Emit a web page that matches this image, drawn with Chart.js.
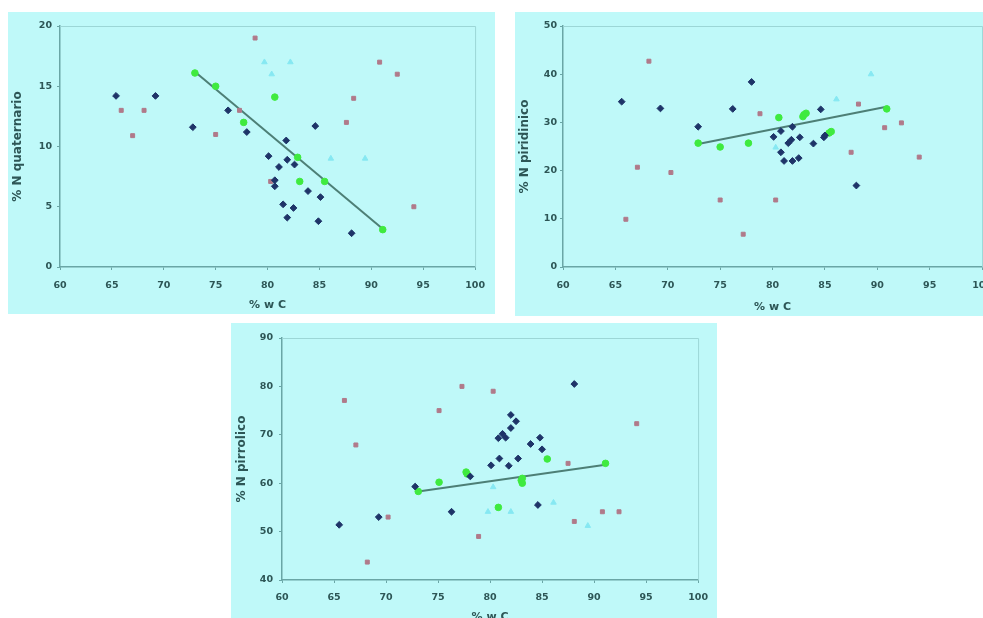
<!DOCTYPE html>
<html>
<head>
<meta charset="utf-8">
<title>% N vs % w C</title>
<script src="https://cdn.jsdelivr.net/npm/chart.js@4/dist/chart.umd.min.js"></script>
<style>
  html, body { margin: 0; padding: 0; background: #ffffff; overflow: hidden; width: 983px; height: 618px; }
  .panel { position: absolute; background: #bff9f9; overflow: hidden; }
  .panel canvas { display: block; }
</style>
</head>
<body>
<div class="panel" style="left:8px; top:12px; width:487px; height:302px;"><canvas id="quatChart" width="487" height="302"></canvas></div>
<div class="panel" style="left:515px; top:12px; width:487px; height:304px;"><canvas id="piriChart" width="487" height="304"></canvas></div>
<div class="panel" style="left:231px; top:323px; width:486px; height:302px;"><canvas id="pirrChart" width="486" height="302"></canvas></div>

<script>
// shared x axis (% w C)
const xTicks = { min: 60, max: 100, step: 5 };

// % N quaternario
const quatNavy = [[65.4,14.2],[69.2,14.2],[72.8,11.6],[76.2,13.0],[78.0,11.2],[80.1,9.2],[81.8,10.5],[81.9,8.9],[81.1,8.3],[82.6,8.5],
  [80.7,7.2],[80.7,6.7],[83.9,6.3],[85.1,5.8],[81.5,5.2],[82.5,4.9],[81.9,4.1],[84.9,3.8],[84.6,11.7],[88.1,2.8]];
const quatPink = [[65.9,13.0],[68.1,13.0],[67.0,10.9],[75.0,11.0],[77.3,13.0],[78.8,19.0],[80.3,7.1],[87.6,12.0],[88.3,14.0],
  [90.8,17.0],[92.5,16.0],[94.1,5.0]];
const quatCyan = [[79.7,17.0],[80.4,16.0],[82.2,17.0],[86.1,9.0],[89.4,9.0]];
const quatGreen = [[73.0,16.1],[75.0,15.0],[77.7,12.0],[80.7,14.1],[82.9,9.1],[83.1,7.1],[85.5,7.1],[91.1,3.1]];
const quatTrend = [[73.0,16.2],[91.2,3.1]];
const quatTicks = { min: 0, max: 20, step: 5 };

// % N piridinico
const piriNavy = [[65.6,34.3],[69.3,32.9],[72.9,29.1],[76.2,32.8],[78.0,38.4],[80.1,27.0],[80.8,28.2],[81.9,29.1],[80.8,23.8],[81.1,22.0],
  [81.9,22.0],[82.5,22.6],[81.5,25.7],[81.8,26.4],[82.6,26.9],[83.9,25.6],[84.6,32.7],[84.9,26.9],[85.0,27.3],[88.0,16.9]];
const piriPink = [[68.2,42.7],[67.1,20.7],[70.3,19.6],[66.0,9.9],[75.0,13.9],[77.2,6.8],[78.8,31.8],[80.3,13.9],[87.5,23.8],
  [88.2,33.8],[90.7,28.9],[92.3,29.9],[94.0,22.8]];
const piriCyan = [[86.1,34.8],[89.4,40.0],[80.3,24.8]];
const piriGreen = [[72.9,25.7],[75.0,24.9],[77.7,25.7],[80.6,31.0],[82.9,31.2],[83.0,31.6],[83.2,31.9],[85.4,27.8],[85.6,28.1],[90.9,32.8]];
const piriTrend = [[72.9,25.5],[91.0,33.3]];
const piriTicks = { min: 0, max: 50, step: 10 };

// % N pirrolico
const pirrNavy = [[65.5,51.4],[69.3,53.0],[72.8,59.3],[76.3,54.1],[78.1,61.4],[80.1,63.7],[80.9,65.1],[80.8,69.3],[81.2,70.2],[81.5,69.4],
  [82.0,74.1],[82.5,72.8],[82.0,71.4],[81.8,63.6],[82.7,65.1],[83.9,68.1],[84.8,69.4],[85.0,67.0],[84.6,55.5],[88.1,80.5]];
const pirrPink = [[66.0,77.1],[67.1,67.9],[68.2,43.7],[70.2,53.0],[75.1,75.0],[77.3,80.0],[78.9,49.0],[80.3,79.0],[87.5,64.1],
  [88.1,52.1],[90.8,54.1],[92.4,54.1],[94.1,72.3]];
const pirrCyan = [[80.3,59.2],[79.8,54.1],[82.0,54.1],[86.1,56.0],[89.4,51.2]];
const pirrGreen = [[73.1,58.3],[75.1,60.2],[77.7,62.3],[77.8,61.9],[80.8,55.0],[83.0,60.6],[83.1,60.0],[83.1,61.0],[85.5,65.0],[91.1,64.1]];
const pirrTrend = [[73.1,58.3],[91.1,63.8]];
const pirrTicks = { min: 40, max: 90, step: 10 };

const textColor = '#2d5656';
const axisColor = '#6aa6a6';
const frameColor = '#9cd6d6';

const toPoints = pairs => pairs.map(([x, y]) => ({ x, y }));

function markers(pairs, color, style, radius) {
    return {
        data: toPoints(pairs),
        backgroundColor: color,
        borderColor: color,
        borderWidth: 1,
        pointStyle: style,
        pointRadius: radius
    };
}

// light top/right edge of the plot area
const plotFrame = {
    id: 'plotFrame',
    beforeDatasetsDraw(chart) {
        const { ctx, chartArea: { left, top, right, bottom } } = chart;
        ctx.save();
        ctx.strokeStyle = frameColor;
        ctx.lineWidth = 1;
        ctx.beginPath();
        ctx.moveTo(left, top + 0.5);
        ctx.lineTo(right + 0.5, top + 0.5);
        ctx.lineTo(right + 0.5, bottom);
        ctx.stroke();
        ctx.restore();
    }
};

function buildChart(id, s, box) {
    const tickFont = { family: 'DejaVu Sans', size: 9.5, weight: 'bold' };
    return new Chart(document.getElementById(id), {
        type: 'scatter',
        data: {
            datasets: [
                markers(s.navy, '#1e3468', 'rectRot', 3.4),
                markers(s.pink, '#b07a8a', 'rect', 2.8),
                markers(s.cyan, '#86e8f2', 'triangle', 3.2),
                markers(s.green, '#3fea3f', 'circle', 3.3),
                {
                    data: toPoints(s.trend),
                    showLine: true,
                    borderColor: '#4d7f76',
                    borderWidth: 2,
                    pointRadius: 0
                }
            ]
        },
        options: {
            responsive: false,
            animation: false,
            events: [],
            layout: { padding: { top: box.top, right: box.right, left: 0, bottom: 0 } },
            plugins: {
                legend: { display: false },
                tooltip: { enabled: false }
            },
            scales: {
                x: {
                    type: 'linear',
                    min: xTicks.min,
                    max: xTicks.max,
                    ticks: { stepSize: xTicks.step, color: textColor, font: tickFont, padding: box.xPad },
                    grid: { drawOnChartArea: false, tickLength: 3, color: axisColor },
                    border: { color: axisColor, width: 1.5 },
                    title: {
                        display: true,
                        text: '% w C',
                        color: textColor,
                        font: { family: 'DejaVu Sans', size: 11, weight: 'bold' },
                        padding: { top: 0, bottom: box.xTitle }
                    },
                    afterFit: scale => { scale.height = box.xHeight; }
                },
                y: {
                    type: 'linear',
                    min: s.yTicks.min,
                    max: s.yTicks.max,
                    ticks: { stepSize: s.yTicks.step, color: textColor, font: tickFont, padding: box.yPad },
                    grid: { drawOnChartArea: false, tickLength: 3, color: axisColor },
                    border: { color: axisColor, width: 1.5 },
                    title: {
                        display: true,
                        text: s.title,
                        color: textColor,
                        font: { family: 'DejaVu Sans', size: 12, weight: 'bold' },
                        padding: { top: box.yTitle, bottom: 0 }
                    },
                    afterFit: scale => { scale.width = box.yWidth; }
                }
            }
        },
        plugins: [plotFrame]
    });
}

buildChart('quatChart',
    { navy: quatNavy, pink: quatPink, cyan: quatCyan, green: quatGreen, trend: quatTrend, yTicks: quatTicks, title: '% N quaternario' },
    { top: 14, right: 16, yWidth: 52, xHeight: 47, xPad: 10, yPad: 5, xTitle: 2.4, yTitle: 3 });

buildChart('piriChart',
    { navy: piriNavy, pink: piriPink, cyan: piriCyan, green: piriGreen, trend: piriTrend, yTicks: piriTicks, title: '% N piridinico' },
    { top: 14, right: 18, yWidth: 48, xHeight: 49, xPad: 10, yPad: 3, xTitle: 2.4, yTitle: 3 });

buildChart('pirrChart',
    { navy: pirrNavy, pink: pirrPink, cyan: pirrCyan, green: pirrGreen, trend: pirrTrend, yTicks: pirrTicks, title: '% N pirrolico' },
    { top: 15, right: 15, yWidth: 51, xHeight: 45, xPad: 9, yPad: 6, xTitle: 1.4, yTitle: 4 });
</script>
</body>
</html>
